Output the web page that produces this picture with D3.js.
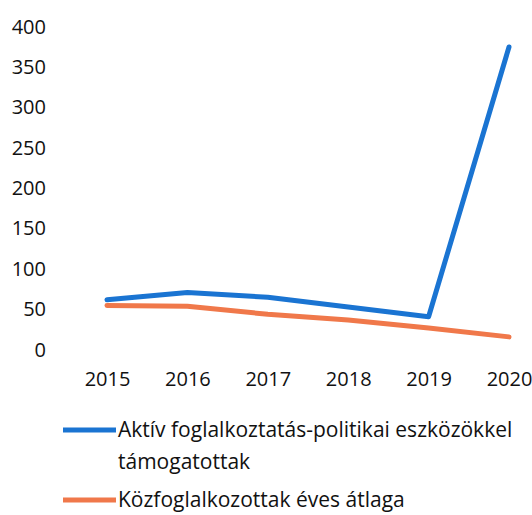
<!DOCTYPE html>
<html><head><meta charset="utf-8">
<script src="https://cdn.jsdelivr.net/npm/d3@7"></script>
<style>body{margin:0;background:#fff}svg{display:block}</style>
</head><body>
<svg id="c" width="532" height="515"></svg>
<script>
const years = ["2015","2016","2017","2018","2019","2020"];
const activeSupported = [61, 70, 64, 52, 40, 374];
const publicWorkAvg = [54, 53, 43, 36, 26, 15];
const yTicks = [0,50,100,150,200,250,300,350,400];
const seriesNames = ["Aktív foglalkoztatás-politikai eszközökkel támogatottak","Közfoglalkozottak éves átlaga"];
const colors = ["#1a74d2","#f0784a"];

const svg = d3.select("#c");
const font = "'Open Sans', sans-serif";
const x = d3.scalePoint().domain(years).range([107, 509]);
const y = d3.scaleLinear().domain([0,400]).range([349, 26]);

const yAxis = svg.append("g").attr("transform","translate(48,0)")
  .call(d3.axisLeft(y).tickValues(yTicks).tickSize(0).tickPadding(2));
yAxis.select(".domain").remove();
yAxis.selectAll("text").attr("font-family",font).attr("font-size",20).attr("fill","#111").attr("dy","0.35em");

const xAxis = svg.append("g").attr("transform","translate(0,372)")
  .call(d3.axisBottom(x).tickSize(0).tickPadding(0));
xAxis.select(".domain").remove();
xAxis.selectAll("text").attr("font-family",font).attr("font-size",20).attr("fill","#111").attr("dy","0.71em");

const line = d3.line().x((d,i)=>x(years[i])).y(d=>y(d));
[activeSupported, publicWorkAvg].forEach((s,k)=>{
  svg.append("path").datum(s).attr("d",line).attr("fill","none")
    .attr("stroke",colors[k]).attr("stroke-width",5).attr("stroke-linejoin","round").attr("stroke-linecap","round");
});

// legend
const lg = svg.append("g");
const items = [{y:430, lines:["Aktív foglalkoztatás-politikai eszközökkel","támogatottak"]},
               {y:500, lines:["Közfoglalkozottak éves átlaga"]}];
items.forEach((it,k)=>{
  lg.append("line").attr("x1",63).attr("x2",116).attr("y1",it.y).attr("y2",it.y)
    .attr("stroke",colors[k]).attr("stroke-width",5);
  const t = lg.append("text").attr("x",118).attr("y",it.y).attr("font-family",font)
    .attr("font-size",21).attr("fill","#111");
  it.lines.forEach((l,i)=>t.append("tspan").attr("x",118).attr("dy", i===0?"0.35em":"1.5em").text(l));
});
</script>
</body></html>
